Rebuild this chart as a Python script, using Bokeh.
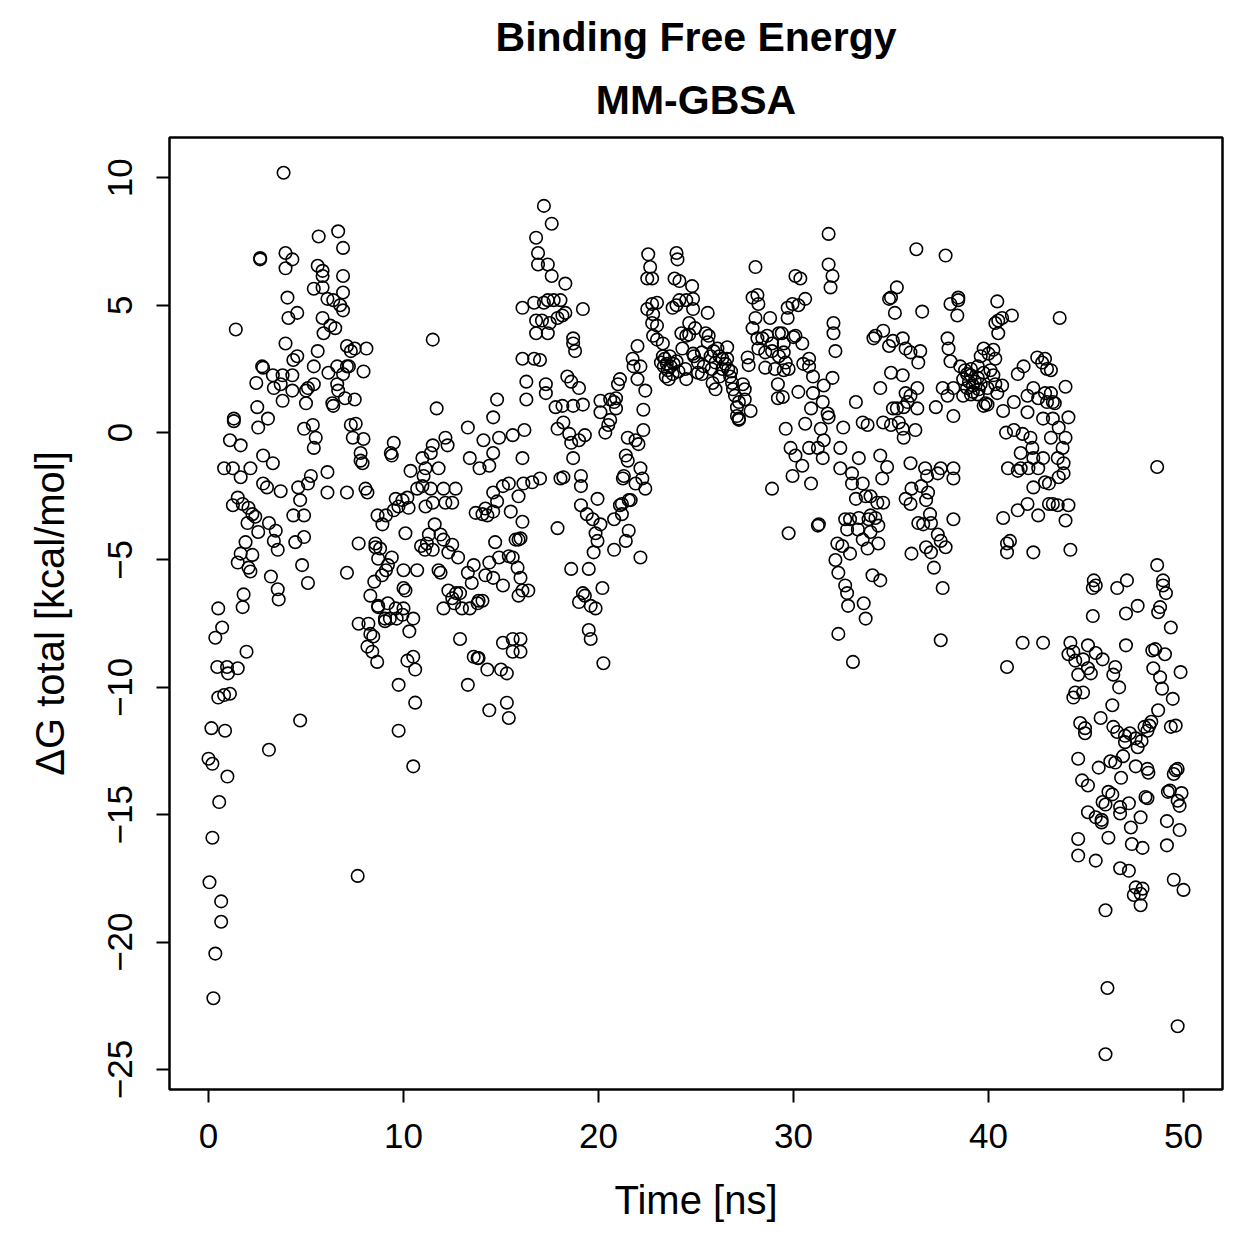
import math
from bokeh.plotting import figure
from bokeh.models import Range1d, FixedTicker, Title, ColumnDataSource
from bokeh.embed import file_html
from bokeh.resources import INLINE

# ---- data: (time [ns], dG total [kcal/mol]) ----
seg_0_7ns = [
    (0.7, -7.65), (0.35, -8.05), (1.95, -8.6), (0.45, -9.2), (0.95, -9.2), (1.0, -9.45), (1.5, -9.25),
    (0.5, -10.4), (0.8, -10.3), (1.1, -10.25), (4.7, -11.3), (0.15, -11.6), (0.85, -11.7), (3.1, -12.45),
    (0.0, -12.8), (0.2, -13.0), (0.97, -13.5), (0.55, -14.5), (0.2, -15.9), (0.05, -17.65), (0.65, -18.4),
    (0.65, -19.2), (0.35, -20.45), (0.25, -22.2),
    (3.85, 10.2), (5.65, 7.7), (6.65, 7.9), (6.9, 7.25), (2.65, 6.8), (2.65, 6.85), (3.95, 7.05), (4.3, 6.8),
    (3.95, 6.45), (5.6, 6.55), (5.85, 6.35), (5.85, 6.15), (5.4, 5.65), (5.85, 5.7), (6.1, 5.25), (6.4, 5.2),
    (6.9, 6.15), (6.9, 5.5), (6.75, 5.0), (6.9, 4.8), (4.05, 5.3), (4.1, 4.5), (4.55, 4.7), (5.85, 4.5),
    (6.25, 4.2), (6.5, 4.1), (5.9, 3.9), (1.4, 4.05), (3.95, 3.5), (4.55, 3.0), (4.35, 2.85), (5.6, 3.2),
    (5.4, 2.6), (6.15, 2.35), (6.6, 2.6), (6.9, 2.3), (6.6, 1.9), (6.65, 1.65), (7.1, 3.4), (7.1, 2.6),
    (7.0, 1.35), (2.75, 2.6), (2.8, 2.55), (3.3, 2.25), (3.8, 2.25), (3.7, 1.9), (3.35, 1.75), (4.3, 2.25),
    (4.3, 1.65), (3.8, 1.25), (5.0, 1.65), (5.1, 1.75), (5.4, 1.9), (5.0, 1.15), (6.35, 1.15), (6.4, 1.05),
    (2.45, 1.95), (2.5, 1.0), (3.05, 0.55), (2.55, 0.2), (1.3, 0.45), (1.3, 0.55), (1.1, -0.3), (1.65, -0.5),
    (0.8, -1.4), (1.25, -1.4), (1.65, -1.75), (2.15, -1.4), (2.8, -0.9), (3.3, -1.2), (4.9, 0.15), (5.35, 0.3),
    (5.5, -0.2), (5.4, -0.6), (5.25, -1.7), (5.1, -2.0), (6.1, -1.55), (6.1, -2.35), (4.6, -2.15), (4.7, -2.65),
    (4.35, -3.25), (4.9, -3.25), (4.45, -4.3), (4.9, -4.1), (4.8, -5.2), (5.1, -5.9), (7.1, -2.35), (7.1, -5.5),
    (2.8, -2.0), (3.0, -2.15), (3.7, -2.3), (1.5, -2.55), (1.25, -2.85), (1.75, -2.8), (2.05, -2.95),
    (2.25, -3.2), (2.4, -3.3), (2.0, -3.55), (2.55, -3.9), (3.1, -3.55), (3.45, -3.85), (3.35, -4.25),
    (3.55, -4.6), (1.9, -4.3), (1.65, -4.75), (2.25, -4.8), (1.5, -5.1), (2.05, -5.3), (2.15, -5.45),
    (3.2, -5.65), (3.55, -6.15), (3.6, -6.55), (1.8, -6.35), (1.75, -6.85), (0.5, -6.9),
]

seg_7_16ns = [
    (7.3, 3.2), (7.5, 3.3), (8.1, 3.3), (7.2, 2.6), (7.95, 2.4), (11.5, 3.65), (16.1, 4.9), (7.5, 1.3),
    (11.7, 0.95), (7.3, 0.3), (7.55, 0.35), (7.4, -0.2), (7.95, -0.25), (7.8, -0.8), (7.8, -1.1), (7.9, -1.2),
    (9.5, -0.4), (9.35, -0.8), (9.4, -0.9), (8.05, -2.2), (8.15, -2.35),
    (14.8, 1.3), (14.6, 0.6), (13.3, 0.2), (14.1, -0.3), (14.9, -0.2), (15.6, -0.1), (14.6, -0.8),
    (13.4, -1.0), (13.9, -1.4), (14.4, -1.3), (16.1, 2.9), (16.3, 2.0), (16.3, 1.3), (16.2, 0.1), (16.1, -1.0),
    (12.15, -0.2), (12.26, -0.5), (11.5, -0.5), (11.4, -0.8), (10.97, -1.0), (11.13, -1.4), (10.36, -1.5),
    (11.03, -1.7), (11.8, -1.4), (10.97, -2.1), (10.7, -2.2), (11.4, -2.2), (12.05, -2.2), (12.67, -2.2),
    (12.15, -2.75), (12.5, -2.75), (11.5, -2.75), (11.13, -2.9), (10.2, -2.55), (10.26, -2.95), (9.95, -2.65),
    (9.74, -2.9), (9.6, -2.6), (9.5, -3.05), (9.1, -3.25), (8.67, -3.25), (8.92, -3.6),
    (7.7, -4.35), (8.56, -4.35), (8.56, -4.5), (8.8, -4.55), (8.7, -4.95), (9.4, -4.9), (9.2, -5.2),
    (9.1, -5.4), (8.9, -5.6), (8.5, -5.85), (8.3, -6.4), (8.7, -6.8), (9.2, -6.7), (9.6, -6.9), (10.0, -6.9),
    (10.1, -3.95), (10.0, -5.4), (10.7, -5.4), (10.0, -6.1), (10.1, -6.2),
    (11.3, -4.0), (11.6, -3.6), (11.2, -4.35), (10.9, -4.45), (11.1, -4.6), (11.5, -4.6), (11.9, -4.0),
    (12.05, -4.2), (12.5, -4.4), (12.3, -4.7), (12.8, -4.9), (11.8, -5.4), (11.9, -5.5), (12.3, -6.2),
    (12.7, -6.3), (12.5, -6.5), (12.9, -6.3), (13.3, -5.5), (13.6, -5.2), (13.5, -5.9), (13.85, -6.6),
    (13.8, -6.7), (14.05, -6.6), (12.05, -6.9), (13.0, -6.9),
    (14.4, -5.1), (14.9, -4.9), (15.4, -4.85), (15.6, -4.9), (15.85, -5.3), (14.7, -4.3), (15.75, -4.2),
    (15.9, -4.2), (15.5, -3.1), (14.8, -2.7), (14.6, -2.35), (15.1, -2.1), (15.4, -2.0), (15.9, -2.5),
    (14.2, -2.98), (13.7, -3.15), (14.05, -3.2), (14.3, -3.25), (14.6, -3.1), (16.1, -3.5), (14.2, -5.6),
    (14.6, -5.7), (15.1, -6.0), (16.0, -5.7), (15.9, -6.4), (16.1, -6.2),
    (7.7, -7.5), (8.2, -7.5), (8.3, -7.9), (8.45, -8.0), (8.15, -8.4), (8.4, -8.6), (8.65, -9.0),
    (8.7, -6.85), (9.05, -7.3), (9.05, -7.4), (9.3, -7.3), (9.95, -7.15), (9.65, -7.3), (10.5, -7.3),
    (10.3, -7.8), (10.2, -8.95), (10.5, -8.8), (10.6, -9.3), (9.75, -9.9), (10.6, -10.6), (9.75, -11.7),
    (10.5, -13.1), (7.65, -17.4), (12.9, -8.1), (13.3, -9.9), (13.6, -8.8), (13.8, -8.85), (13.85, -8.85),
    (14.3, -9.3), (15.0, -9.3), (15.3, -9.45), (15.1, -8.25), (15.6, -8.1), (15.6, -8.6), (14.4, -10.9),
    (15.3, -10.6), (15.4, -11.2), (12.6, -6.7), (13.4, -6.9),
    (16.0, -8.1), (16.0, -8.6),
]

seg_16_25ns = [
    (17.2, 8.9), (17.6, 8.2), (16.8, 7.65), (16.9, 7.05), (16.9, 6.6), (17.4, 6.6), (17.6, 6.15), (18.3, 5.85),
    (16.7, 5.1), (17.2, 5.1), (17.4, 5.2), (17.7, 5.2), (18.05, 5.2), (18.3, 4.7), (19.2, 4.85), (16.8, 4.4),
    (17.1, 4.4), (17.5, 4.3), (17.9, 4.5), (18.15, 4.6), (16.8, 3.9), (17.4, 3.9), (18.7, 3.7), (18.7, 3.5),
    (18.8, 3.2), (16.7, 2.9), (17.0, 2.85), (17.3, 1.9), (17.3, 1.55), (18.4, 2.2), (18.6, 2.0), (19.0, 1.75),
    (17.8, 1.0), (18.15, 1.05), (18.7, 1.05), (19.2, 1.1), (17.9, 0.15), (18.2, 0.4), (18.5, -0.05),
    (18.6, -0.4), (19.0, -0.3), (19.3, -0.1), (18.7, -1.0), (16.15, -2.0), (16.6, -1.95), (17.0, -1.8),
    (18.05, -1.8), (18.2, -1.75), (19.1, -1.7), (19.1, -2.1), (17.9, -3.75), (16.0, -4.15),
    (18.6, -5.35), (19.5, -5.35), (20.2, -6.1), (19.2, -6.3), (19.3, -6.4), (19.0, -6.65), (19.6, -6.8),
    (19.85, -6.9), (16.4, -6.2), (19.5, -7.75), (19.6, -8.1), (20.25, -9.05),
    (19.1, -2.85), (19.4, -3.2), (19.7, -3.4), (19.95, -2.6), (20.1, -3.6), (19.85, -3.95), (19.95, -4.25),
    (19.75, -4.7), (20.8, -3.4), (20.8, -4.6), (21.2, -2.8), (21.2, -3.2), (21.55, -2.65), (21.55, -3.85),
    (21.4, -4.25), (22.15, -4.9),
    (20.1, 1.25), (20.1, 0.8), (20.6, 1.3), (20.9, 1.35), (20.8, 1.2), (20.9, 0.95), (20.6, 0.5), (20.5, 0.3),
    (20.35, 0.0), (21.1, 2.1), (21.0, 1.9), (21.5, -0.2), (21.4, -0.9), (21.5, -1.1), (21.9, -0.3),
    (22.05, -0.45), (22.3, 0.1), (22.3, 0.9), (22.4, 1.65), (22.0, 2.1), (21.8, 2.6), (21.75, 2.9),
    (22.15, 2.6), (22.0, 3.4), (21.25, -1.8), (21.3, -1.7), (21.9, -2.0), (22.15, -1.4), (22.25, -1.8),
    (22.4, -2.2), (21.1, -2.85), (21.65, -2.65),
    (22.55, 7.0), (22.65, 6.5), (22.5, 6.05), (22.75, 6.05), (24.0, 7.05), (24.05, 6.8), (23.9, 6.05),
    (24.15, 5.95), (24.8, 5.75), (24.85, 5.25), (24.85, 4.85), (22.5, 4.85), (22.75, 5.05), (23.0, 5.1),
    (22.8, 4.65), (22.75, 4.3), (23.0, 4.2), (22.8, 3.8), (23.0, 3.65), (23.3, 3.5), (24.0, 5.0), (24.15, 5.2),
    (23.8, 4.9), (24.5, 5.2), (24.65, 4.3), (24.25, 3.9), (24.5, 3.8), (24.65, 3.85), (24.3, 3.3), (24.85, 3.1),
    (23.3, 3.0), (23.5, 2.7), (23.35, 2.6), (23.7, 2.6), (23.85, 2.7), (23.6, 2.1), (24.45, 2.5), (24.5, 2.1),
    (24.9, 3.0), (25.1, 2.35), (23.4, 2.9), (23.55, 2.45), (23.8, 2.3), (23.45, 2.2), (24.0, 2.8),
    (23.2, 2.75), (24.1, 2.4), (23.65, 3.0),
]

seg_25_34ns = [
    (31.8, 7.8), (28.05, 6.5), (31.8, 6.6), (32.0, 6.15), (31.9, 5.7), (30.1, 6.15), (30.35, 6.05),
    (27.9, 5.3), (28.15, 5.4), (28.2, 5.05), (28.05, 4.5), (27.9, 4.1), (28.8, 4.5), (29.7, 4.9),
    (29.95, 5.05), (30.25, 5.0), (30.6, 5.25), (29.7, 4.5), (29.4, 3.9), (30.1, 3.8), (30.45, 3.5),
    (32.05, 4.3), (32.05, 3.9), (32.15, 3.2), (34.1, 3.7), (25.6, 4.7), (24.95, 4.1),
    (25.5, 3.9), (25.65, 3.8), (25.6, 3.55), (25.3, 3.15), (26.1, 3.3), (26.6, 3.35), (25.1, 2.75),
    (25.75, 3.0), (26.0, 2.75), (26.35, 2.9), (26.35, 2.5), (26.65, 2.5), (25.3, 2.3), (25.85, 1.95),
    (26.0, 1.7), (26.75, 2.2), (26.85, 1.95), (26.9, 1.7), (27.0, 1.45), (27.2, 1.2), (27.4, 1.9),
    (27.5, 1.7), (27.5, 1.3), (27.8, 0.85), (27.1, 0.65), (27.2, 0.5),
    (25.9, 3.2), (26.2, 3.0), (26.5, 2.7), (26.8, 2.4), (25.4, 2.6), (26.2, 2.2), (27.1, 1.0), (27.2, 0.55),
    (26.6, 2.9), (25.8, 2.5),
    (27.65, 2.95), (27.7, 2.65), (28.15, 3.7), (28.4, 3.7), (28.65, 3.8), (28.9, 3.5), (29.25, 3.9),
    (29.5, 3.5), (28.2, 3.3), (28.55, 3.15), (28.9, 3.2), (29.25, 3.0), (29.5, 3.15), (29.6, 2.75),
    (29.75, 2.5), (28.55, 2.55), (29.05, 2.5), (29.5, 2.45), (30.0, 3.75), (30.5, 2.7), (30.8, 2.6),
    (30.8, 2.9), (29.2, 1.9), (29.2, 1.35), (29.45, 1.4),
    (30.25, 1.6), (31.0, 2.2), (31.55, 1.85), (32.0, 2.15), (31.0, 1.55), (30.9, 0.95), (31.5, 1.2),
    (31.75, 0.75), (31.8, 0.6), (30.6, 0.35), (31.4, 0.15), (31.55, -0.3), (31.25, -0.6), (30.8, -0.6),
    (29.6, 0.15), (29.85, -0.6), (30.1, -0.9), (30.45, -1.3), (29.95, -1.7), (31.5, -1.0), (30.9, -2.0),
    (28.9, -2.2), (31.25, -3.65), (31.3, -3.6), (29.75, -3.95),
    (33.2, 1.2), (33.55, 0.4), (33.8, 0.3), (32.55, 0.2), (32.4, -0.6), (33.35, -1.0), (32.4, -1.4),
    (33.0, -1.6), (33.0, -2.0), (33.55, -2.0), (33.2, -2.6), (33.7, -2.5), (33.95, -2.5), (32.65, -3.4),
    (32.9, -3.4), (33.35, -3.35), (33.85, -3.4), (32.75, -3.8), (33.3, -3.8), (33.55, -4.2), (33.8, -4.55),
    (32.25, -4.35), (32.5, -4.45), (32.9, -4.75), (32.15, -5.0), (32.3, -5.5), (32.65, -6.0), (32.75, -6.3),
    (32.8, -6.8), (33.6, -6.7), (34.05, -5.6), (33.7, -7.3), (32.3, -7.9), (33.05, -9.0),
]

seg_34_43ns = [
    (36.3, 7.2), (37.8, 6.95), (35.3, 5.7), (34.9, 5.25), (35.0, 5.3), (35.2, 4.7), (36.6, 4.75),
    (38.05, 5.05), (38.45, 5.3), (38.45, 5.2), (38.4, 4.6), (40.45, 5.15), (40.35, 4.3), (40.5, 4.4),
    (40.7, 4.5), (40.5, 3.9), (41.2, 4.6),
    (34.2, 3.8), (34.6, 4.0), (34.9, 3.4), (35.1, 3.6), (35.6, 3.7), (35.75, 3.3), (36.0, 3.15), (36.5, 3.2),
    (36.4, 2.75), (37.9, 3.7), (37.95, 3.3), (38.05, 2.8),
    (35.0, 2.35), (35.6, 2.25), (34.45, 1.75), (35.75, 1.55), (36.0, 1.45), (36.35, 1.75), (35.85, 1.2),
    (35.1, 0.95), (35.3, 0.95), (35.65, 1.0), (36.35, 0.95), (34.6, 0.4), (35.0, 0.3), (35.4, 0.4),
    (35.6, 0.15), (35.65, -0.2), (36.25, 0.1), (37.3, 1.0), (37.65, 1.75), (37.9, 1.45), (38.2, 1.75),
    (38.2, 0.65),
    (38.55, 2.6), (38.8, 2.45), (39.1, 2.5), (39.45, 2.6), (39.6, 3.0), (39.75, 3.3), (40.0, 3.1),
    (40.25, 3.25), (40.35, 2.9), (38.7, 2.1), (39.1, 2.25), (39.45, 2.15), (39.75, 2.35), (40.1, 2.45),
    (40.25, 2.25), (38.9, 1.75), (39.2, 1.85), (39.6, 1.9), (39.95, 1.75), (40.35, 1.9), (40.7, 1.85),
    (38.7, 1.45), (39.1, 1.5), (39.45, 1.5), (39.85, 1.15), (39.95, 1.1), (39.75, 1.05), (40.45, 1.55),
    (40.75, 0.85), (39.3, 2.0), (39.0, 2.0), (39.5, 1.7), (38.9, 2.3), (39.2, 1.6),
    (41.5, 2.3), (41.8, 2.6), (42.5, 2.95), (42.75, 2.75), (43.0, 2.5), (41.3, 1.2), (42.0, 1.45),
    (42.3, 1.75), (42.55, 1.35), (42.9, 1.55), (43.0, 1.2), (42.0, 0.8), (42.8, 0.55),
    (34.45, -0.9), (34.8, -1.35), (34.55, -1.8), (34.3, -2.75), (34.6, -2.75), (33.95, -3.25), (34.2, -3.35),
    (34.35, -3.65), (33.95, -3.9), (34.35, -4.35), (34.45, -5.8),
    (36.0, -1.2), (36.75, -1.4), (36.85, -1.7), (37.4, -1.6), (37.55, -1.4), (38.2, -1.4), (38.2, -1.8),
    (36.55, -2.1), (36.05, -2.2), (35.75, -2.6), (36.0, -2.8), (36.9, -2.35), (36.8, -2.65), (37.0, -3.2),
    (36.4, -3.55), (36.65, -3.6), (37.05, -3.55), (36.8, -4.5), (37.4, -4.0), (37.55, -4.25), (37.8, -4.5),
    (36.05, -4.75), (37.05, -4.7), (37.2, -5.3), (37.65, -6.1), (38.2, -3.4),
    (40.9, 0.0), (41.3, 0.1), (41.75, -0.05), (42.15, -0.2), (41.65, -0.8), (42.25, -0.6), (42.3, -1.0),
    (42.8, -1.0), (41.0, -1.4), (41.5, -1.5), (41.65, -1.4), (42.05, -1.4), (42.55, -1.4), (42.3, -2.15),
    (42.9, -1.95), (43.1, -2.8), (42.0, -2.8), (41.5, -3.05), (40.75, -3.35), (42.55, -3.25), (40.95, -4.35),
    (41.1, -4.25), (40.95, -4.7), (42.3, -4.7),
    (37.55, -8.15), (41.75, -8.25), (42.8, -8.25), (40.95, -9.2),
]

seg_43_50ns = [
    (43.65, 4.5), (42.9, 2.9), (43.2, 2.45), (43.95, 1.8), (43.2, 1.55), (43.3, 1.2), (43.4, 1.15),
    (44.1, 0.6), (43.3, 0.55), (43.6, 0.2), (43.2, -0.2), (43.95, -0.2), (43.8, -0.6), (43.55, -1.0),
    (43.85, -1.2), (43.85, -1.6), (43.6, -1.75), (43.1, -2.0), (43.3, -2.8), (43.55, -2.85), (44.1, -2.85),
    (43.95, -3.45), (44.2, -4.6), (48.65, -1.35), (48.65, -5.2),
    (45.4, -5.8), (45.5, -6.0), (45.35, -6.1), (46.6, -6.1), (47.1, -5.8), (48.95, -5.8), (48.95, -6.0),
    (49.1, -6.3), (47.65, -6.8), (48.8, -6.85), (48.7, -7.05), (47.05, -7.1), (45.35, -7.2), (49.35, -7.65),
    (44.2, -8.25), (44.1, -8.7), (44.35, -8.6), (44.45, -8.95), (44.85, -8.9), (45.1, -8.35), (45.5, -8.65),
    (45.85, -8.9), (45.1, -9.25), (45.25, -9.45), (44.6, -9.5), (46.5, -9.2), (46.4, -9.5), (46.7, -10.0),
    (47.05, -8.35), (48.4, -8.55), (48.55, -8.5), (49.05, -8.7), (48.45, -9.25), (48.8, -9.6), (48.9, -10.05),
    (49.85, -9.4), (49.45, -10.45),
    (44.45, -10.2), (44.35, -10.4), (44.85, -10.2), (46.35, -10.7), (44.7, -11.4), (44.95, -11.6),
    (44.95, -11.8), (45.75, -11.2), (46.4, -11.55), (46.6, -11.75), (47.0, -11.9), (47.25, -11.8),
    (47.55, -12.0), (47.0, -12.15), (47.65, -12.35), (47.85, -12.1), (48.0, -11.55), (48.25, -11.5),
    (48.35, -11.35), (48.15, -11.7), (48.7, -10.9), (49.35, -11.55), (49.6, -11.5), (46.9, -12.7),
    (46.5, -12.95), (46.25, -12.9), (45.65, -13.15), (46.8, -13.55), (47.55, -13.1), (48.15, -13.2),
    (48.2, -13.35), (49.6, -13.25), (49.7, -13.2), (49.5, -13.4), (44.6, -12.8), (44.8, -13.65),
    (45.1, -13.85),
    (46.15, -14.1), (46.35, -14.2), (45.85, -14.5), (46.0, -14.6), (45.1, -14.9), (45.5, -15.1),
    (45.8, -15.2), (45.8, -15.3), (46.75, -14.7), (46.75, -14.95), (47.2, -14.55), (48.05, -14.3),
    (48.15, -14.35), (47.8, -15.1), (47.3, -15.5), (49.2, -14.1), (49.3, -14.05), (49.9, -14.15),
    (49.7, -14.45), (49.8, -14.65), (49.15, -15.25), (49.8, -15.6), (44.6, -15.95), (46.15, -15.9),
    (47.35, -16.15), (47.9, -16.3), (49.15, -16.2), (44.6, -16.6), (45.5, -16.8), (46.75, -17.1),
    (47.2, -17.2), (47.55, -17.85), (47.9, -17.9), (47.45, -18.15), (47.8, -18.1), (47.8, -18.55),
    (46.0, -18.75), (49.5, -17.55), (50.0, -17.95), (46.1, -21.8), (49.7, -23.3), (46.0, -24.4),
]

x_ticks = [0, 10, 20, 30, 40, 50]
y_ticks = [-25, -20, -15, -10, -5, 0, 5, 10]
title_lines = ["Binding Free Energy", "MM-GBSA"]
x_title = "Time [ns]"
y_title = "\u0394G total [kcal/mol]"

segments = [seg_0_7ns, seg_7_16ns, seg_16_25ns, seg_25_34ns, seg_34_43ns, seg_43_50ns]
time_ns = [t for seg in segments for t, _ in seg]
dg_total = [g for seg in segments for _, g in seg]

# R-style 4% padding around the data range
x_min, x_max = 0.0, 50.0
y_min, y_max = min(dg_total), max(dg_total)
xpad = 0.04 * (x_max - x_min)
ypad = 0.04 * (y_max - y_min)

FONT = "Liberation Sans"

p = figure(width=1259, height=1259, output_backend="svg", toolbar_location=None,
           x_range=Range1d(x_min - xpad, x_max + xpad),
           y_range=Range1d(y_min - ypad, y_max + ypad),
           min_border_left=169, min_border_right=37, min_border_top=137, min_border_bottom=170,
           background_fill_color="white", border_fill_color="white")

p.xgrid.visible = False
p.ygrid.visible = False
p.outline_line_color = "black"
p.outline_line_width = 2.5
p.outline_line_alpha = 1.0

src = ColumnDataSource(data=dict(t=time_ns, g=dg_total))
p.scatter(x="t", y="g", source=src, marker="circle", size=12.5,
          fill_color=None, line_color="black", line_width=1.6)

for ax, ticks in ((p.xaxis, x_ticks), (p.yaxis, y_ticks)):
    ax.ticker = FixedTicker(ticks=ticks)
    ax.axis_line_color = None
    ax.major_tick_out = 13
    ax.major_tick_in = 0
    ax.major_tick_line_width = 2
    ax.major_tick_line_color = "black"
    ax.minor_tick_line_color = None
    ax.major_label_text_font = FONT
    ax.major_label_text_font_size = "35px"
    ax.major_label_text_color = "black"
    ax.axis_label_text_font = FONT
    ax.axis_label_text_font_size = "40px"
    ax.axis_label_text_font_style = "normal"
    ax.axis_label_text_color = "black"

p.xaxis.major_label_standoff = 21
p.yaxis.major_label_standoff = 24
p.yaxis.major_label_orientation = "vertical"
p.xaxis.axis_label = x_title
p.yaxis.axis_label = y_title
p.xaxis.axis_label_standoff = 27
p.yaxis.axis_label_standoff = 34

# two-line bold title, centred over the plot frame (added nearest-first)
p.add_layout(Title(text=title_lines[1], align="center", text_font=FONT, text_font_style="bold",
                   text_font_size="41px", text_color="black", standoff=30), "above")
p.add_layout(Title(text=title_lines[0], align="center", text_font=FONT, text_font_style="bold",
                   text_font_size="41px", text_color="black", standoff=0), "above")

open("out.html", "w").write(file_html(p, INLINE))
